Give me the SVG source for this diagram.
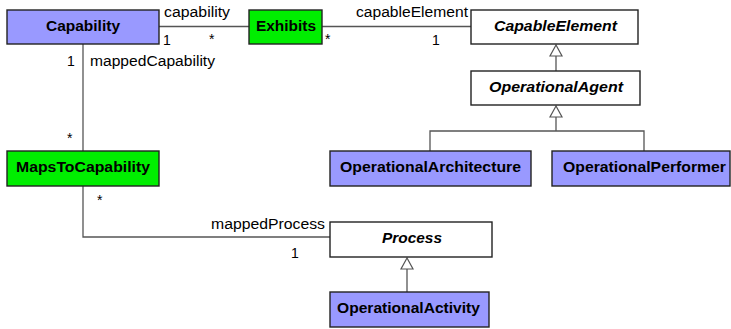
<svg xmlns="http://www.w3.org/2000/svg" width="731" height="329" viewBox="0 0 731 329">
<style>
.box{stroke:#222;stroke-width:1.4}
.blue{fill:#9999ff}
.green{fill:#00ee00}
.white{fill:#fff}
.name{font-family:"Liberation Sans",Arial,sans-serif;font-size:14px;font-weight:bold;fill:#000}
.abs{font-style:italic}
.lbl{font-family:"Liberation Sans",Arial,sans-serif;font-size:14px;fill:#000}
.ln{fill:none;stroke:#555;stroke-width:1.3}
.tri{fill:#fff;stroke:#555;stroke-width:1.2}
</style>
<rect width="731" height="329" fill="#fff"/>
<g id="connectors">
<line class="ln" x1="159" y1="26.5" x2="249" y2="26.5"/>
<line class="ln" x1="322" y1="26.5" x2="471" y2="26.5"/>
<line class="ln" x1="83" y1="44" x2="83" y2="151"/>
<polyline class="ln" points="83,186 83,237 330,237"/>
<line class="ln" x1="556" y1="56" x2="556" y2="71"/>
<polygon class="tri" points="556,45 550,56 562,56"/>
<polyline class="ln" points="430,151 430,131 644,131 644,151"/>
<line class="ln" x1="556" y1="117" x2="556" y2="131"/>
<polygon class="tri" points="556,106 550,117 562,117"/>
<line class="ln" x1="407" y1="269" x2="407" y2="292"/>
<polygon class="tri" points="407,258 401,269 413,269"/>
<text class="lbl" x="164" y="17" textLength="66" lengthAdjust="spacingAndGlyphs">capability</text>
<text class="lbl" x="163" y="45">1</text>
<text class="lbl" x="209" y="44">*</text>
<text class="lbl" x="325" y="44">*</text>
<text class="lbl" x="356" y="17" textLength="112" lengthAdjust="spacingAndGlyphs">capableElement</text>
<text class="lbl" x="432" y="45">1</text>
<text class="lbl" x="67" y="66">1</text>
<text class="lbl" x="90" y="66" textLength="125" lengthAdjust="spacingAndGlyphs">mappedCapability</text>
<text class="lbl" x="67" y="143">*</text>
<text class="lbl" x="97" y="205">*</text>
<text class="lbl" x="211" y="229" textLength="114" lengthAdjust="spacingAndGlyphs">mappedProcess</text>
<text class="lbl" x="291" y="258">1</text>
</g>
<g id="Capability"><rect class="box blue" x="7" y="10" width="152" height="34"/><text class="name" x="46" y="31" textLength="74" lengthAdjust="spacingAndGlyphs">Capability</text></g>
<g id="Exhibits"><rect class="box green" x="249" y="10" width="73" height="34"/><text class="name" x="256" y="31" textLength="60" lengthAdjust="spacingAndGlyphs">Exhibits</text></g>
<g id="CapableElement"><rect class="box white" x="471" y="10" width="167" height="34"/><text class="name abs" x="494" y="31" textLength="123" lengthAdjust="spacingAndGlyphs">CapableElement</text></g>
<g id="OperationalAgent"><rect class="box white" x="471" y="71" width="169" height="34"/><text class="name abs" x="489" y="92" textLength="134" lengthAdjust="spacingAndGlyphs">OperationalAgent</text></g>
<g id="OperationalArchitecture"><rect class="box blue" x="330" y="151" width="201" height="35"/><text class="name" x="340" y="172" textLength="181" lengthAdjust="spacingAndGlyphs">OperationalArchitecture</text></g>
<g id="OperationalPerformer"><rect class="box blue" x="552" y="151" width="178" height="35"/><text class="name" x="563" y="172" textLength="163" lengthAdjust="spacingAndGlyphs">OperationalPerformer</text></g>
<g id="MapsToCapability"><rect class="box green" x="7" y="151" width="152" height="35"/><text class="name" x="16" y="172" textLength="134" lengthAdjust="spacingAndGlyphs">MapsToCapability</text></g>
<g id="Process"><rect class="box white" x="330" y="222" width="162" height="35"/><text class="name abs" x="382" y="243" textLength="60" lengthAdjust="spacingAndGlyphs">Process</text></g>
<g id="OperationalActivity"><rect class="box blue" x="330" y="292" width="159" height="35"/><text class="name" x="337" y="313" textLength="143" lengthAdjust="spacingAndGlyphs">OperationalActivity</text></g>
</svg>
